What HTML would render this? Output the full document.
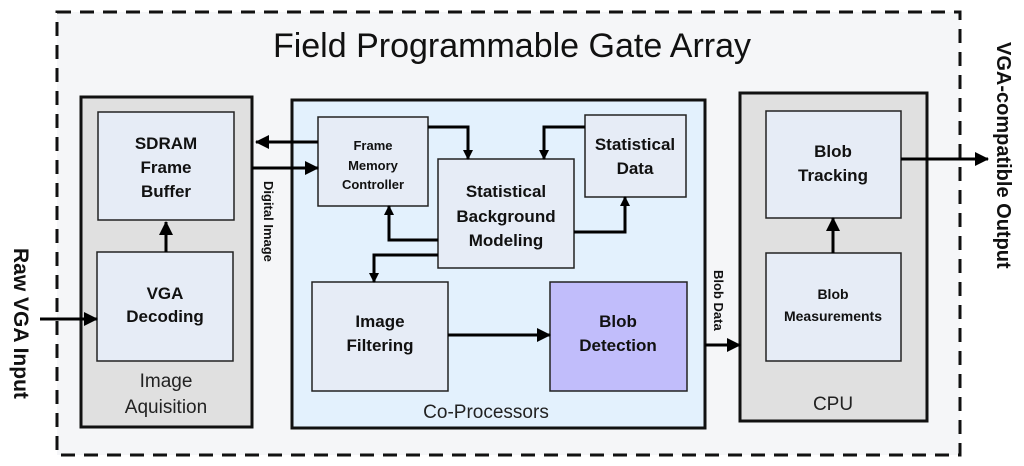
<!DOCTYPE html>
<html><head><style>html,body{margin:0;padding:0;background:#fff}svg{display:block}text{font-family:"Liberation Sans",sans-serif}</style></head><body>
<svg width="1024" height="466" viewBox="0 0 1024 466" xmlns="http://www.w3.org/2000/svg">
<defs><marker id="a" markerWidth="10" markerHeight="10" refX="9" refY="5" orient="auto" markerUnits="userSpaceOnUse"><path d="M0,0 L10,5 L0,10 z" fill="#000"/></marker>
<marker id="b" markerWidth="14" markerHeight="14" refX="13" refY="7" orient="auto" markerUnits="userSpaceOnUse"><path d="M0,0 L14,7 L0,14 z" fill="#000"/></marker></defs>
<rect x="57" y="12" width="903" height="443" fill="#f5f6f8" stroke="#111" stroke-width="3" stroke-dasharray="14,9"/>
<text x="512" y="57" font-size="34" text-anchor="middle" fill="#111">Field Programmable Gate Array</text>
<g stroke="#111" stroke-width="3"><rect x="81" y="97" width="171" height="330" fill="#e0e0e0"/>
<rect x="292" y="100" width="413" height="328" fill="#e3f1fd"/>
<rect x="740" y="93" width="187" height="328" fill="#e0e0e0"/></g>
<g stroke="#222" stroke-width="1.5" fill="#e6ecf6">
<rect x="98" y="112" width="136" height="108"/><rect x="97" y="252" width="136" height="109"/>
<rect x="318" y="117" width="110" height="89"/><rect x="438" y="159" width="136" height="109"/>
<rect x="585" y="115" width="101" height="82"/><rect x="312" y="282" width="136" height="109"/>
<rect x="550" y="282" width="137" height="109" fill="#c1bdfb"/>
<rect x="766" y="111" width="135" height="107"/><rect x="766" y="253" width="135" height="108"/></g>
<g font-weight="bold" text-anchor="middle" fill="#111" font-size="17">
<text x="166" y="149">SDRAM</text><text x="166" y="173">Frame</text><text x="166" y="197">Buffer</text>
<text x="165" y="299">VGA</text><text x="165" y="322">Decoding</text>
<text font-size="13" x="373" y="150">Frame</text><text font-size="13" x="373" y="170">Memory</text><text font-size="13" x="373" y="189">Controller</text>
<text x="506" y="197">Statistical</text><text x="506" y="222">Background</text><text x="506" y="246">Modeling</text>
<text x="635" y="150">Statistical</text><text x="635" y="174">Data</text>
<text x="380" y="327">Image</text><text x="380" y="351">Filtering</text>
<text x="618" y="327">Blob</text><text x="618" y="351">Detection</text>
<text x="833" y="157">Blob</text><text x="833" y="181">Tracking</text>
<text font-size="14" x="833" y="299">Blob</text><text font-size="14" x="833" y="321">Measurements</text></g>
<g font-size="19" text-anchor="middle" fill="#222"><text x="166" y="387">Image</text><text x="166" y="413">Aquisition</text>
<text x="486" y="418">Co-Processors</text><text x="833" y="410">CPU</text></g>
<g font-weight="bold" fill="#111">
<text transform="translate(264,181) rotate(90)" font-size="13">Digital Image</text>
<text transform="translate(714,270) rotate(90)" font-size="13">Blob Data</text>
<text transform="translate(14,248) rotate(90)" font-size="21">Raw VGA Input</text>
<text transform="translate(997,42) rotate(90)" font-size="20">VGA-compatible Output</text></g>
<g stroke="#000" stroke-width="3" fill="none">
<path d="M318,142 H256" marker-end="url(#b)"/><path d="M252,168 H318" marker-end="url(#b)"/>
<path d="M166,252 V222" marker-end="url(#b)"/><path d="M40,319 H97" marker-end="url(#b)"/>
<path d="M428,127 H468 V159" marker-end="url(#a)"/><path d="M585,127 H544 V159" marker-end="url(#a)"/>
<path d="M438,240 H389 V206" marker-end="url(#a)"/><path d="M574,232 H625 V197" marker-end="url(#a)"/>
<path d="M438,255 H374 V282" marker-end="url(#a)"/><path d="M448,335 H550" marker-end="url(#b)"/>
<path d="M705,345 H740" marker-end="url(#b)"/><path d="M833,253 V218" marker-end="url(#b)"/>
<path d="M901,159 H988" marker-end="url(#b)"/></g>
</svg>
</body></html>
